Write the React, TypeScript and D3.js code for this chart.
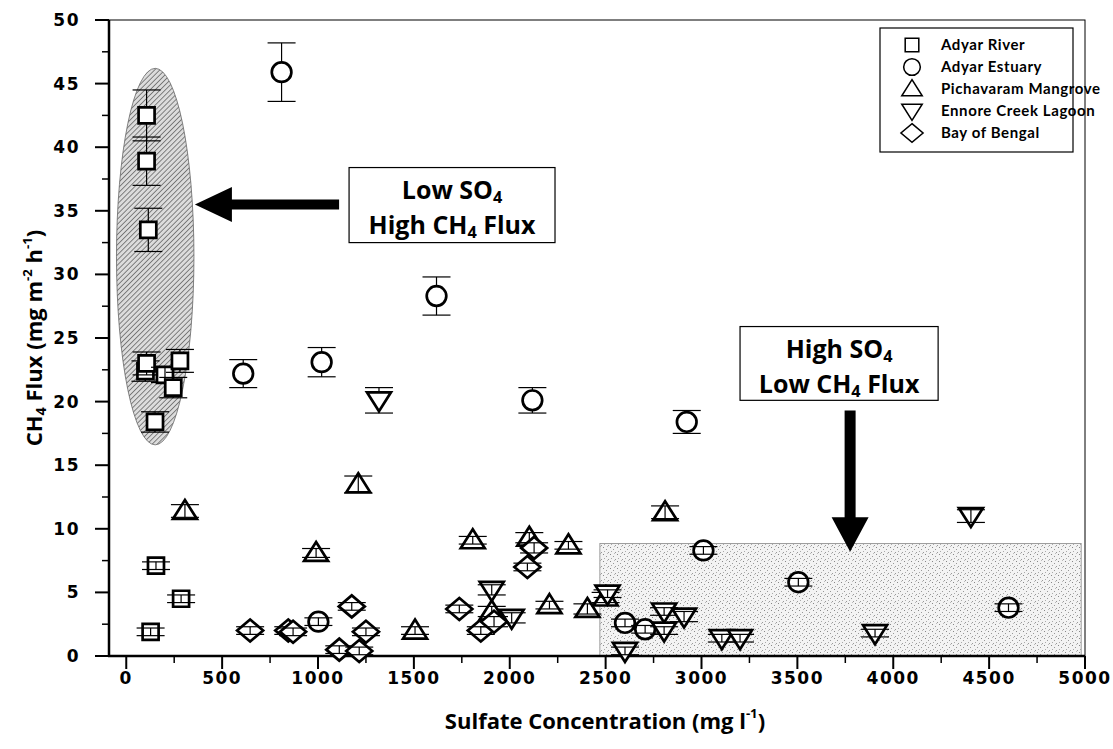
import * as d3 from "d3";

// [sulfate, flux, error]
const adyarRiver = [
  [106, 42.5, 2.0], [106, 38.9, 1.9], [115, 33.5, 1.7], [100, 22.4, 0.8],
  [106, 23.0, 0.9], [202, 22.1, 0.6], [245, 21.1, 0.8], [280, 23.2, 0.9],
  [150, 18.4, 0.8], [155, 7.1, 0.3], [286, 4.5, 0.3], [127, 1.9, 0.3],
];
const adyarEstuary = [
  [810, 45.9, 2.3], [610, 22.2, 1.1], [1019, 23.1, 1.15], [1618, 28.3, 1.5],
  [2118, 20.1, 1.0], [2923, 18.4, 0.9], [1002, 2.7, 0.3], [2601, 2.6, 0.3],
  [2706, 2.1, 0.3], [3010, 8.3, 0.3], [3505, 5.8, 0.3], [4601, 3.8, 0.3],
];
const pichavaram = [
  [306, 11.4, 0.5], [990, 8.1, 0.35], [1210, 13.5, 0.65], [1506, 2.0, 0.3],
  [1807, 9.1, 0.3], [1906, 3.5, 0.4], [2102, 9.3, 0.4], [2207, 4.0, 0.3],
  [2306, 8.7, 0.3], [2405, 3.7, 0.4], [2500, 4.6, 0.4], [2810, 11.3, 0.5],
];
const ennore = [
  [1318, 20.1, 1.0], [1906, 5.2, 0.4], [2010, 3.0, 0.4], [2510, 4.9, 0.3],
  [2601, 0.4, 0.3], [2805, 3.5, 0.3], [2909, 3.1, 0.4], [2805, 2.0, 0.3],
  [3106, 1.4, 0.3], [3201, 1.4, 0.3], [3905, 1.8, 0.3], [4405, 11.0, 0.5],
];
const bengal = [
  [646, 2.0, 0.3], [845, 2.0, 0.3], [870, 1.9, 0.3], [1111, 0.5, 0.3],
  [1176, 3.9, 0.3], [1215, 0.4, 0.3], [1250, 1.9, 0.3], [1737, 3.7, 0.3],
  [1849, 2.0, 0.3], [1918, 2.7, 0.4], [2092, 7.0, 0.3], [2127, 8.5, 0.4],
];

const seriesNames = ["Adyar River", "Adyar Estuary", "Pichavaram Mangrove", "Ennore Creek Lagoon", "Bay of Bengal"];
const seriesShapes = ["square", "circle", "up", "down", "diamond"];
const seriesData = [adyarRiver, adyarEstuary, pichavaram, ennore, bengal];

const xTicks = [0, 500, 1000, 1500, 2000, 2500, 3000, 3500, 4000, 4500, 5000];
const yTicks = [0, 5, 10, 15, 20, 25, 30, 35, 40, 45, 50];

const W = 1113;
const H = 749;
const x = d3.scaleLinear().domain([-90, 5000]).range([109, 1085]);
const y = d3.scaleLinear().domain([0, 50]).range([656, 20]);

const tickFont = "'DejaVu Sans', sans-serif";
const textFont = "'Open Sans', 'Lato', sans-serif";
const legendFont = "Lato, 'Open Sans', sans-serif";

function shapePath(shape: string, cx: number, cy: number) {
  switch (shape) {
    case "square":
      return `M${cx - 8},${cy - 8}h16v16h-16Z`;
    case "circle": {
      const r = 9.8;
      return `M${cx - r},${cy}a${r},${r} 0 1,0 ${2 * r},0a${r},${r} 0 1,0 ${-2 * r},0Z`;
    }
    case "up":
      return `M${cx},${cy - 11}L${cx + 12},${cy + 8}L${cx - 12},${cy + 8}Z`;
    case "down":
      return `M${cx - 12},${cy - 8}L${cx + 12},${cy - 8}L${cx},${cy + 11}Z`;
    default:
      return `M${cx},${cy - 11}L${cx + 13},${cy}L${cx},${cy + 11}L${cx - 13},${cy}Z`;
  }
}

function Marker({ shape, d }: { shape: string; d: number[] }) {
  const cx = x(d[0]);
  const cy = y(d[1]);
  const top = y(d[1] + d[2]);
  const bot = y(d[1] - d[2]);
  const inside = cy - top < 9;
  const cap = 14;
  const bar = (
    <g stroke="#000" strokeWidth={1.2}>
      <line x1={cx} x2={cx} y1={top} y2={bot} />
      <line x1={cx - cap} x2={cx + cap} y1={top} y2={top} />
      <line x1={cx - cap} x2={cx + cap} y1={bot} y2={bot} />
    </g>
  );
  return (
    <g>
      {!inside && bar}
      <path d={shapePath(shape, cx, cy)} fill="#fff" stroke="#000" strokeWidth={2.7} strokeLinejoin="miter" />
      {inside && bar}
    </g>
  );
}

function Sub({ t }: { t: string }) {
  return (
    <tspan fontSize="0.65em" dy="0.25em">
      {t}
    </tspan>
  );
}

// two-line boxed label, one <text> per line
function BoxLabel({ cx, top, line1, line2 }: { cx: number; top: number; line1: [string, string]; line2: [string, string, string] }) {
  return (
    <g fontFamily={textFont} fontWeight="bold" fontSize={25} textAnchor="middle">
      <text x={cx} y={top + 31}>
        {line1[0]}
        <Sub t={line1[1]} />
      </text>
      <text x={cx} y={top + 66}>
        {line2[0]}
        <Sub t={line2[1]} />
        <tspan dy="-0.16em">{line2[2]}</tspan>
      </text>
    </g>
  );
}

export default function App() {
  const minorX = d3.range(0, 5001, 250).filter((v) => v % 500 !== 0);
  const minorY = d3.range(2.5, 50, 5);

  // ellipse & shaded box in data units
  const ell = { cx: 151, cy: 31.4, rx: 202, ry: 14.8 };
  const rect = { x0: 2470, x1: 4980, y0: 0, y1: 8.85 };

  const lowBox = { x0: 1162, x1: 2236, y0: 32.5, y1: 38.4 };
  const highBox = { x0: 3201, x1: 4234, y0: 20.1, y1: 25.9 };

  // left arrow
  const la = { tip: 358, base: 551, end: 1110, yv: 35.5 };
  const laY = y(la.yv);
  const leftArrow = `M${x(la.tip)},${laY}L${x(la.base)},${laY - 17.5}L${x(la.base)},${laY - 5}L${x(la.end)},${laY - 5}L${x(la.end)},${laY + 5}L${x(la.base)},${laY + 5}L${x(la.base)},${laY + 17.5}Z`;
  // down arrow
  const da = { xv: 3775, tip: 8.2, base: 10.9, top: 19.3 };
  const daX = x(da.xv);
  const downArrow = `M${daX},${y(da.tip)}L${daX - 18.5},${y(da.base)}L${daX - 5.5},${y(da.base)}L${daX - 5.5},${y(da.top)}L${daX + 5.5},${y(da.top)}L${daX + 5.5},${y(da.base)}L${daX + 18.5},${y(da.base)}Z`;

  const legendX = 880;
  const legendY = 28;

  const lowCx = (x(lowBox.x0) + x(lowBox.x1)) / 2;
  const highCx = (x(highBox.x0) + x(highBox.x1)) / 2;

  return (
    <svg width={W} height={H} style={{ position: "absolute", left: 0, top: 0, background: "#fff" }}>
      <defs>
        <pattern id="hatch" width="3.6" height="3.6" patternUnits="userSpaceOnUse" patternTransform="rotate(45)">
          <rect width="3.6" height="3.6" fill="#dcdcdc" />
          <line x1="0" y1="0" x2="0" y2="3.6" stroke="#333" strokeWidth="1.1" />
        </pattern>
        <pattern id="stipple" width="7" height="7" patternUnits="userSpaceOnUse">
          <rect width="7" height="7" fill="#f3f3f3" />
          <rect x="1" y="1" width="1" height="1" fill="#888" />
          <rect x="4" y="3" width="1" height="1" fill="#999" />
          <rect x="2" y="5" width="1" height="1" fill="#aaa" />
          <rect x="6" y="6" width="1" height="1" fill="#999" />
          <rect x="5" y="0" width="1" height="1" fill="#bbb" />
        </pattern>
      </defs>

      {/* shaded regions */}
      <ellipse
        cx={x(ell.cx)}
        cy={y(ell.cy)}
        rx={x(ell.cx + ell.rx) - x(ell.cx)}
        ry={y(ell.cy - ell.ry) - y(ell.cy)}
        fill="url(#hatch)"
        stroke="#666"
        strokeWidth={0.8}
      />
      <rect
        x={x(rect.x0)}
        y={y(rect.y1)}
        width={x(rect.x1) - x(rect.x0)}
        height={y(rect.y0) - y(rect.y1)}
        fill="url(#stipple)"
        stroke="#888"
        strokeWidth={0.8}
      />

      {/* frame */}
      <rect x={109} y={20} width={1085 - 109} height={656 - 20} fill="none" stroke="#000" strokeWidth={1} />
      <line x1={109} x2={109} y1={20} y2={657} stroke="#000" strokeWidth={2.5} />
      <line x1={108} x2={1085} y1={656} y2={656} stroke="#000" strokeWidth={2.5} />

      {/* x ticks */}
      {xTicks.map((t) => (
        <g key={"x" + t}>
          <line x1={x(t)} x2={x(t)} y1={656} y2={669} stroke="#000" strokeWidth={2} />
          <text x={x(t)} y={684} textAnchor="middle" fontFamily={tickFont} fontWeight="bold" fontSize={17} letterSpacing={1.5}>
            {t}
          </text>
        </g>
      ))}
      {minorX.map((t) => (
        <line key={"mx" + t} x1={x(t)} x2={x(t)} y1={656} y2={663} stroke="#000" strokeWidth={1.5} />
      ))}

      {/* y ticks */}
      {yTicks.map((t) => (
        <g key={"y" + t}>
          <line x1={95} x2={109} y1={y(t)} y2={y(t)} stroke="#000" strokeWidth={2} />
          <text x={80} y={y(t) + 6} textAnchor="end" fontFamily={tickFont} fontWeight="bold" fontSize={17} letterSpacing={1.5}>
            {t}
          </text>
        </g>
      ))}
      {minorY.map((t) => (
        <line key={"my" + t} x1={102} x2={109} y1={y(t)} y2={y(t)} stroke="#000" strokeWidth={1.5} />
      ))}

      {/* axis titles */}
      <text x={605} y={729} textAnchor="middle" fontFamily={textFont} fontWeight="bold" fontSize={22}>
        Sulfate Concentration (mg l
        <tspan fontSize="0.6em" dy="-0.8em">-1</tspan>
        <tspan dy="0.48em">)</tspan>
      </text>
      <text transform={`translate(42,${y(25)}) rotate(-90)`} textAnchor="middle" fontFamily={textFont} fontWeight="bold" fontSize={22}>
        CH<Sub t="4" />
        <tspan dy="-0.16em"> Flux (mg m</tspan>
        <tspan fontSize="0.6em" dy="-0.8em">-2</tspan>
        <tspan dy="0.48em"> h</tspan>
        <tspan fontSize="0.6em" dy="-0.8em">-1</tspan>
        <tspan dy="0.48em">)</tspan>
      </text>

      {/* data */}
      {seriesData.map((s, i) => (
        <g key={seriesNames[i]}>
          {s.map((d, j) => (
            <Marker key={j} shape={seriesShapes[i]} d={d} />
          ))}
        </g>
      ))}

      {/* annotations */}
      <path d={leftArrow} fill="#000" />
      <path d={downArrow} fill="#000" />
      <rect x={x(lowBox.x0)} y={y(lowBox.y1)} width={x(lowBox.x1) - x(lowBox.x0)} height={y(lowBox.y0) - y(lowBox.y1)} fill="#fff" stroke="#000" strokeWidth={1.2} />
      <BoxLabel cx={lowCx} top={y(lowBox.y1)} line1={["Low SO", "4"]} line2={["High CH", "4", " Flux"]} />
      <rect x={x(highBox.x0)} y={y(highBox.y1)} width={x(highBox.x1) - x(highBox.x0)} height={y(highBox.y0) - y(highBox.y1)} fill="#fff" stroke="#000" strokeWidth={1.2} />
      <BoxLabel cx={highCx} top={y(highBox.y1)} line1={["High SO", "4"]} line2={["Low CH", "4", " Flux"]} />

      {/* legend */}
      <rect x={legendX} y={legendY} width={193} height={124} fill="#fff" stroke="#000" strokeWidth={1.2} />
      {seriesNames.map((n, i) => {
        const cy = legendY + 17 + i * 22;
        const sx = legendX + 32;
        return (
          <g key={n}>
            <path d={shapePath(seriesShapes[i], sx, cy)} fill="#fff" stroke="#000" strokeWidth={1.8} transform={`translate(${sx},${cy}) scale(0.85) translate(${-sx},${-cy})`} />
            <text x={legendX + 61} y={cy + 5} fontFamily={legendFont} fontWeight="bold" fontSize={15} letterSpacing={0.6}>
              {n}
            </text>
          </g>
        );
      })}
    </svg>
  );
}
